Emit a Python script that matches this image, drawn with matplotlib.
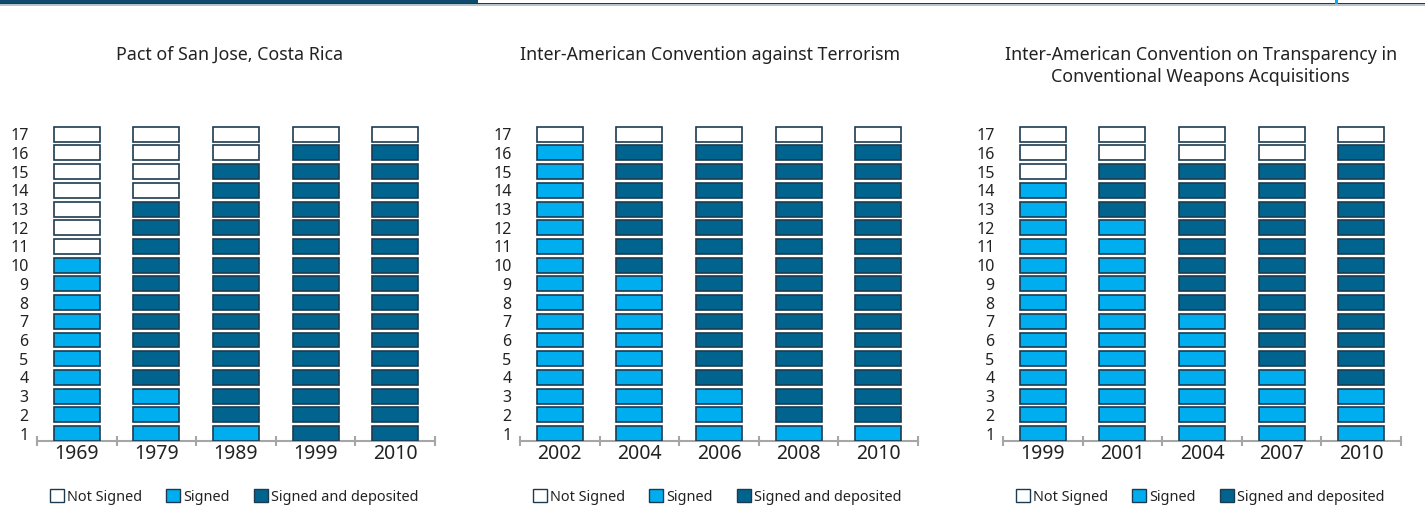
import matplotlib.pyplot as plt
from matplotlib.patches import Patch, Rectangle

# values (number of countries out of 17)
pact_years = ['1969', '1979', '1989', '1999', '2010']
pact_signed = [10, 3, 1, 0, 0]
pact_deposited = [0, 10, 14, 16, 16]

terror_years = ['2002', '2004', '2006', '2008', '2010']
terror_signed = [16, 9, 3, 1, 1]
terror_deposited = [0, 7, 13, 15, 15]

weapons_years = ['1999', '2001', '2004', '2007', '2010']
weapons_signed = [14, 12, 7, 4, 3]
weapons_deposited = [0, 3, 8, 11, 13]

n_countries = 17
row_labels = [str(i) for i in range(1, n_countries + 1)]

titles = ['Pact of San Jose, Costa Rica',
          'Inter-American Convention against Terrorism',
          'Inter-American Convention on Transparency in\nConventional Weapons Acquisitions']

WHITE = '#ffffff'
LIGHT = '#00aeef'
DARK = '#00648f'
EDGE = '#1d3b50'
AXIS = '#a6a6a6'
TEXT = '#222222'

plt.rcParams['font.family'] = ['Noto Sans', 'DejaVu Sans']

fig = plt.figure(figsize=(14.25, 5.12), dpi=100)

panels = [(pact_years, pact_signed, pact_deposited),
          (terror_years, terror_signed, terror_deposited),
          (weapons_years, weapons_signed, weapons_deposited)]
lefts = [37 / 1425, 520 / 1425, 1003 / 1425]
title_x = [0.485, 0.477, 0.497]

for i, (years, signed, deposited) in enumerate(panels):
    ax = fig.add_axes([lefts[i], 0.1387, 398 / 1425, 0.621])
    for j in range(len(years)):
        for r in range(n_countries):
            if r < signed[j]:
                c = LIGHT
            elif r < signed[j] + deposited[j]:
                c = DARK
            else:
                c = WHITE
            ax.bar(j, 0.8, bottom=r, width=0.58, color=c, edgecolor=EDGE,
                   linewidth=1.2, zorder=3)

    ax.set_xlim(-0.5, len(years) - 0.5)
    ax.set_ylim(0, n_countries)
    for s in ['top', 'right', 'left']:
        ax.spines[s].set_visible(False)
    ax.spines['bottom'].set_color(AXIS)
    ax.spines['bottom'].set_linewidth(1.5)

    ax.set_xticks(range(len(years)))
    ax.set_xticklabels(years, fontsize=14, color=TEXT)
    ax.set_xticks([k - 0.5 for k in range(len(years) + 1)], minor=True)
    ax.tick_params(axis='x', which='major', length=0, pad=2)
    ax.tick_params(axis='x', which='minor', direction='inout', length=7,
                   width=1.5, color=AXIS)

    ax.set_yticks([k + 0.4 for k in range(n_countries)])
    ax.set_yticklabels(row_labels, fontsize=11.5, color=TEXT)
    ax.tick_params(axis='y', length=0, pad=6)

    ax.text(title_x[i], 1.243, titles[i], transform=ax.transAxes,
            ha='center', va='top', fontsize=12.8, color=TEXT, linespacing=1.33)

    handles = [Patch(facecolor=WHITE, edgecolor=EDGE, label='Not Signed'),
               Patch(facecolor=LIGHT, edgecolor=EDGE, label='Signed'),
               Patch(facecolor=DARK, edgecolor=EDGE, label='Signed and deposited')]
    leg = ax.legend(handles=handles, loc='center', bbox_to_anchor=(0.495, -0.176),
                    ncol=3, frameon=False, fontsize=10.4, handlelength=0.95,
                    handleheight=0.95, handletextpad=0.2, columnspacing=1.7,
                    borderaxespad=0)
    for t in leg.get_texts():
        t.set_color(TEXT)

# header band at the very top
fig.add_artist(Rectangle((0, 1 - 4 / 512), 478 / 1425, 4 / 512,
                         transform=fig.transFigure, color='#0d4a6b', lw=0))
fig.add_artist(Rectangle((0, 1 - 4 / 512), 1, 1.2 / 512,
                         transform=fig.transFigure, color='#1c3a4e', lw=0))
fig.add_artist(Rectangle((0, 1 - 5.5 / 512), 1, 1.2 / 512,
                         transform=fig.transFigure, color='#b8c4cc', lw=0))
fig.add_artist(Rectangle((1335 / 1425, 1 - 3.5 / 512), 2.5 / 1425, 3.5 / 512,
                         transform=fig.transFigure, color=LIGHT, lw=0))

fig.savefig('out.png', dpi=100)
